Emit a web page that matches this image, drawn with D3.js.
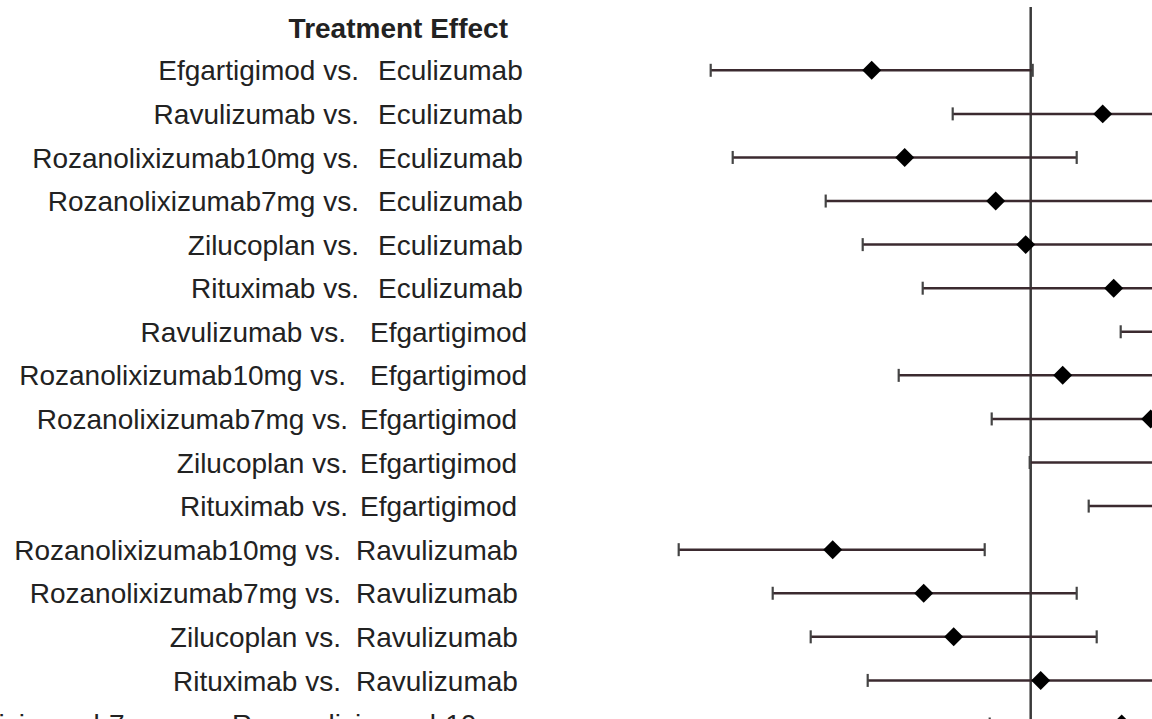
<!DOCTYPE html>
<html>
<head>
<meta charset="utf-8">
<script src="https://cdn.jsdelivr.net/npm/d3@7"></script>
<style>
  html, body { margin: 0; padding: 0; background: #fff; overflow: hidden; }
  text { font-family: "Liberation Sans", Arial, sans-serif; fill: #222; }
</style>
</head>
<body>
<div id="chart"></div>
<script>
// comparisons (row order, top to bottom)
const treatments = [
	"Efgartigimod", "Ravulizumab", "Rozanolixizumab10mg", "Rozanolixizumab7mg", "Zilucoplan", "Rituximab",
	"Ravulizumab", "Rozanolixizumab10mg", "Rozanolixizumab7mg", "Zilucoplan", "Rituximab",
	"Rozanolixizumab10mg", "Rozanolixizumab7mg", "Zilucoplan", "Rituximab",
	"Rozanolixizumab7mg"
];
const comparators = [
	"Eculizumab", "Eculizumab", "Eculizumab", "Eculizumab", "Eculizumab", "Eculizumab",
	"Efgartigimod", "Efgartigimod", "Efgartigimod", "Efgartigimod", "Efgartigimod",
	"Ravulizumab", "Ravulizumab", "Ravulizumab", "Ravulizumab",
	"Rozanolixizumab10mg"
];
// treatment effect estimate and 95% interval
const estimate = [-1.59, 0.72, -1.26, -0.35, -0.05, 0.83, 2.31, 0.32, 1.20, 1.54, 2.42, -1.98, -1.07, -0.77, 0.10, 0.91];
const lower    = [-3.20, -0.78, -2.98, -2.05, -1.68, -1.08, 0.90, -1.32, -0.39, -0.01, 0.58, -3.52, -2.58, -2.20, -1.63, -0.41];
const upper    = [0.02, 2.22, 0.46, 1.36, 1.58, 2.73, 3.72, 1.96, 2.79, 3.09, 4.26, -0.46, 0.46, 0.66, 1.83, 2.23];

const data = treatments.map((t, i) => ({
	id: i, treatment: t, comparator: comparators[i],
	est: estimate[i], lo: lower[i], hi: upper[i]
}));

// label column layout: where "vs." ends and where the comparator starts
function labelCols(i) {
	if (i < 6) return [359, 378];
	if (i < 8) return [346, 370];
	if (i < 11) return [348, 360];
	if (i < 15) return [341, 356];
	return [207, 232];
}

const W = 1152, H = 719;

const svg = d3.select("#chart")
	.append("svg")
	.attr("width", W)
	.attr("height", H);

// x: treatment effect, no-effect line at 0
const x = d3.scaleLinear().domain([-4, 2]).range([630.7, 1230.7]);
// y: one row per comparison
const y = d3.scalePoint().domain(data.map(d => d.id)).range([70.3, 724]);

// title
svg.append("text")
	.attr("x", 508)
	.attr("y", 38)
	.attr("text-anchor", "end")
	.attr("font-size", 28)
	.attr("font-weight", "bold")
	.text("Treatment Effect");

// labels
const lab = svg.append("g").selectAll("g").data(data).join("g")
	.attr("transform", d => `translate(0,${y(d.id)})`);
lab.append("text")
	.attr("x", d => labelCols(d.id)[0])
	.attr("dy", "0.36em")
	.attr("text-anchor", "end")
	.attr("font-size", 28)
	.text(d => d.treatment + " vs.");
lab.append("text")
	.attr("x", d => labelCols(d.id)[1])
	.attr("dy", "0.36em")
	.attr("font-size", 28)
	.text(d => d.comparator);

// no-effect line
svg.append("line")
	.attr("x1", x(0)).attr("x2", x(0))
	.attr("y1", 7).attr("y2", H + 20)
	.attr("stroke", "#3a3a3a")
	.attr("stroke-width", 2.5);

// intervals
const rows = svg.append("g").selectAll("g").data(data).join("g")
	.attr("transform", d => `translate(0,${y(d.id)})`);

rows.append("line")
	.attr("x1", d => x(d.lo))
	.attr("x2", d => x(d.hi))
	.attr("stroke", "#3b2a2f")
	.attr("stroke-width", 2.5);

rows.selectAll(".cap")
	.data(d => [d.lo, d.hi])
	.join("line")
	.attr("class", "cap")
	.attr("x1", v => x(v)).attr("x2", v => x(v))
	.attr("y1", -6.5).attr("y2", 6.5)
	.attr("stroke", "#444")
	.attr("stroke-width", 2.2);

// point estimates
rows.append("path")
	.attr("d", d3.symbol(d3.symbolSquare, 180))
	.attr("transform", d => `translate(${x(d.est)},0) rotate(45)`)
	.attr("fill", "#000");
</script>
</body>
</html>
